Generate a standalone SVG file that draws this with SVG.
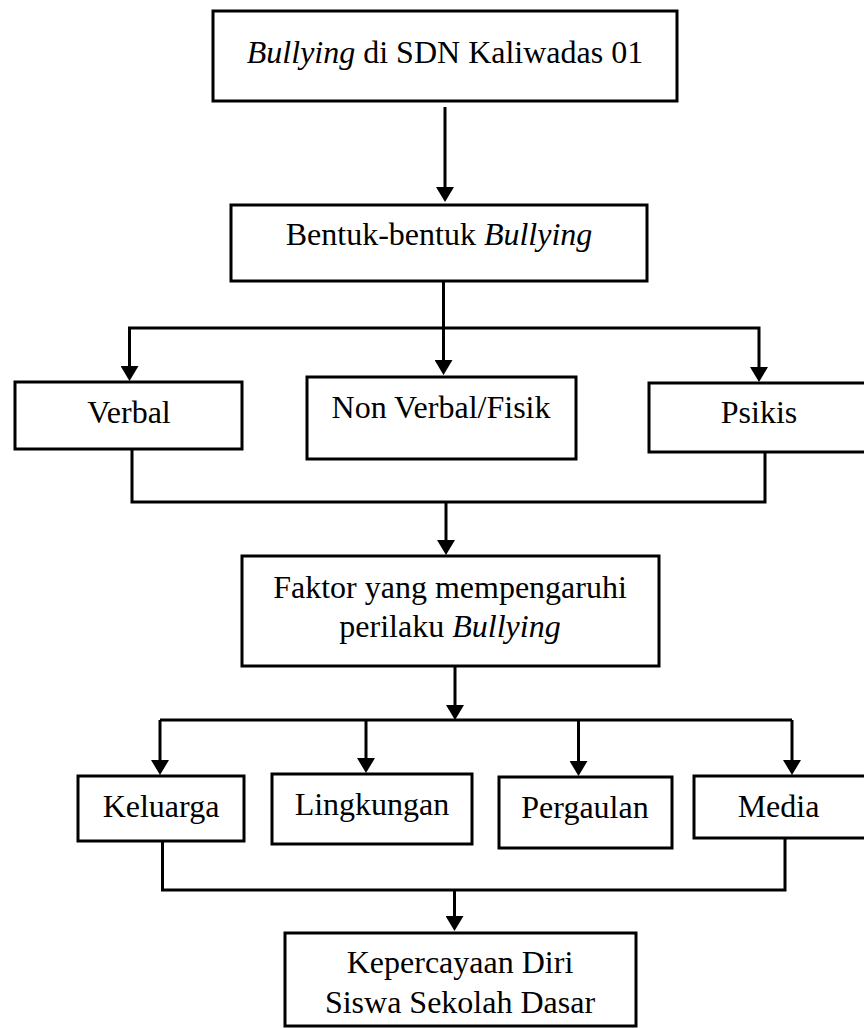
<svg xmlns="http://www.w3.org/2000/svg" width="864" height="1028" viewBox="0 0 864 1028">
  <style>
    .box { fill: #ffffff; stroke: #000000; stroke-width: 3; }
    .lbl { font-family: "Liberation Serif", "Times New Roman", serif; font-size: 32px; fill: #000000; text-anchor: middle; }
    .it { font-style: italic; }
    .con { fill: none; stroke: #000000; stroke-width: 3; stroke-linejoin: miter; }
  </style>
  <defs>
    <marker id="arrow" markerUnits="userSpaceOnUse" markerWidth="15" markerHeight="18" viewBox="0 0 15 18" refX="12" refY="9" orient="auto">
      <path d="M0,0 L15,9 L0,18 z" fill="#000000"/>
    </marker>
  </defs>
  <rect width="864" height="1028" fill="#ffffff"/>

  <g id="connectors">
    <path class="con" d="M445,107 V199" marker-end="url(#arrow)"/>
    <path class="con" d="M443.5,281 V372" marker-end="url(#arrow)"/>
    <path class="con" d="M443.5,328 H129.5 V378" marker-end="url(#arrow)"/>
    <path class="con" d="M443.5,328 H759 V379" marker-end="url(#arrow)"/>
    <path class="con" d="M132,449 V502 H765 V452"/>
    <path class="con" d="M446,502 V552" marker-end="url(#arrow)"/>
    <path class="con" d="M455,666 V717" marker-end="url(#arrow)"/>
    <path class="con" d="M160,720 H792"/>
    <path class="con" d="M160,720 V772" marker-end="url(#arrow)"/>
    <path class="con" d="M366,720 V770" marker-end="url(#arrow)"/>
    <path class="con" d="M578.5,720 V773" marker-end="url(#arrow)"/>
    <path class="con" d="M792,720 V772" marker-end="url(#arrow)"/>
    <path class="con" d="M162.5,841 V890 H785 V838"/>
    <path class="con" d="M454.5,890 V928" marker-end="url(#arrow)"/>
  </g>

  <g id="node-bullying">
    <rect class="box" x="213" y="11" width="464" height="90"/>
    <text class="lbl" x="445" y="63"><tspan class="it">Bullying</tspan> di SDN Kaliwadas 01</text>
  </g>
  <g id="node-bentuk">
    <rect class="box" x="231" y="205" width="416" height="76"/>
    <text class="lbl" x="439" y="245">Bentuk-bentuk <tspan class="it">Bullying</tspan></text>
  </g>
  <g id="node-verbal">
    <rect class="box" x="15" y="382" width="227" height="67"/>
    <text class="lbl" x="129" y="423">Verbal</text>
  </g>
  <g id="node-nonverbal">
    <rect class="box" x="307" y="377" width="269" height="82"/>
    <text class="lbl" x="441" y="418">Non Verbal/Fisik</text>
  </g>
  <g id="node-psikis">
    <rect class="box" x="649" y="383" width="218" height="69"/>
    <text class="lbl" x="759" y="423">Psikis</text>
  </g>
  <g id="node-faktor">
    <rect class="box" x="242" y="556" width="417" height="110"/>
    <text class="lbl" x="450" y="598">Faktor yang mempengaruhi</text>
    <text class="lbl" x="450" y="637">perilaku <tspan class="it">Bullying</tspan></text>
  </g>
  <g id="node-keluarga">
    <rect class="box" x="78" y="776" width="166" height="65"/>
    <text class="lbl" x="161" y="817">Keluarga</text>
  </g>
  <g id="node-lingkungan">
    <rect class="box" x="272" y="774" width="200" height="70"/>
    <text class="lbl" x="372" y="815">Lingkungan</text>
  </g>
  <g id="node-pergaulan">
    <rect class="box" x="499" y="777" width="173" height="71"/>
    <text class="lbl" x="585" y="818">Pergaulan</text>
  </g>
  <g id="node-media">
    <rect class="box" x="694" y="776" width="173" height="62"/>
    <text class="lbl" x="778.5" y="817">Media</text>
  </g>
  <g id="node-kepercayaan">
    <rect class="box" x="285" y="933" width="351" height="93"/>
    <text class="lbl" x="460" y="973">Kepercayaan Diri</text>
    <text class="lbl" x="460" y="1013">Siswa Sekolah Dasar</text>
  </g>
</svg>
